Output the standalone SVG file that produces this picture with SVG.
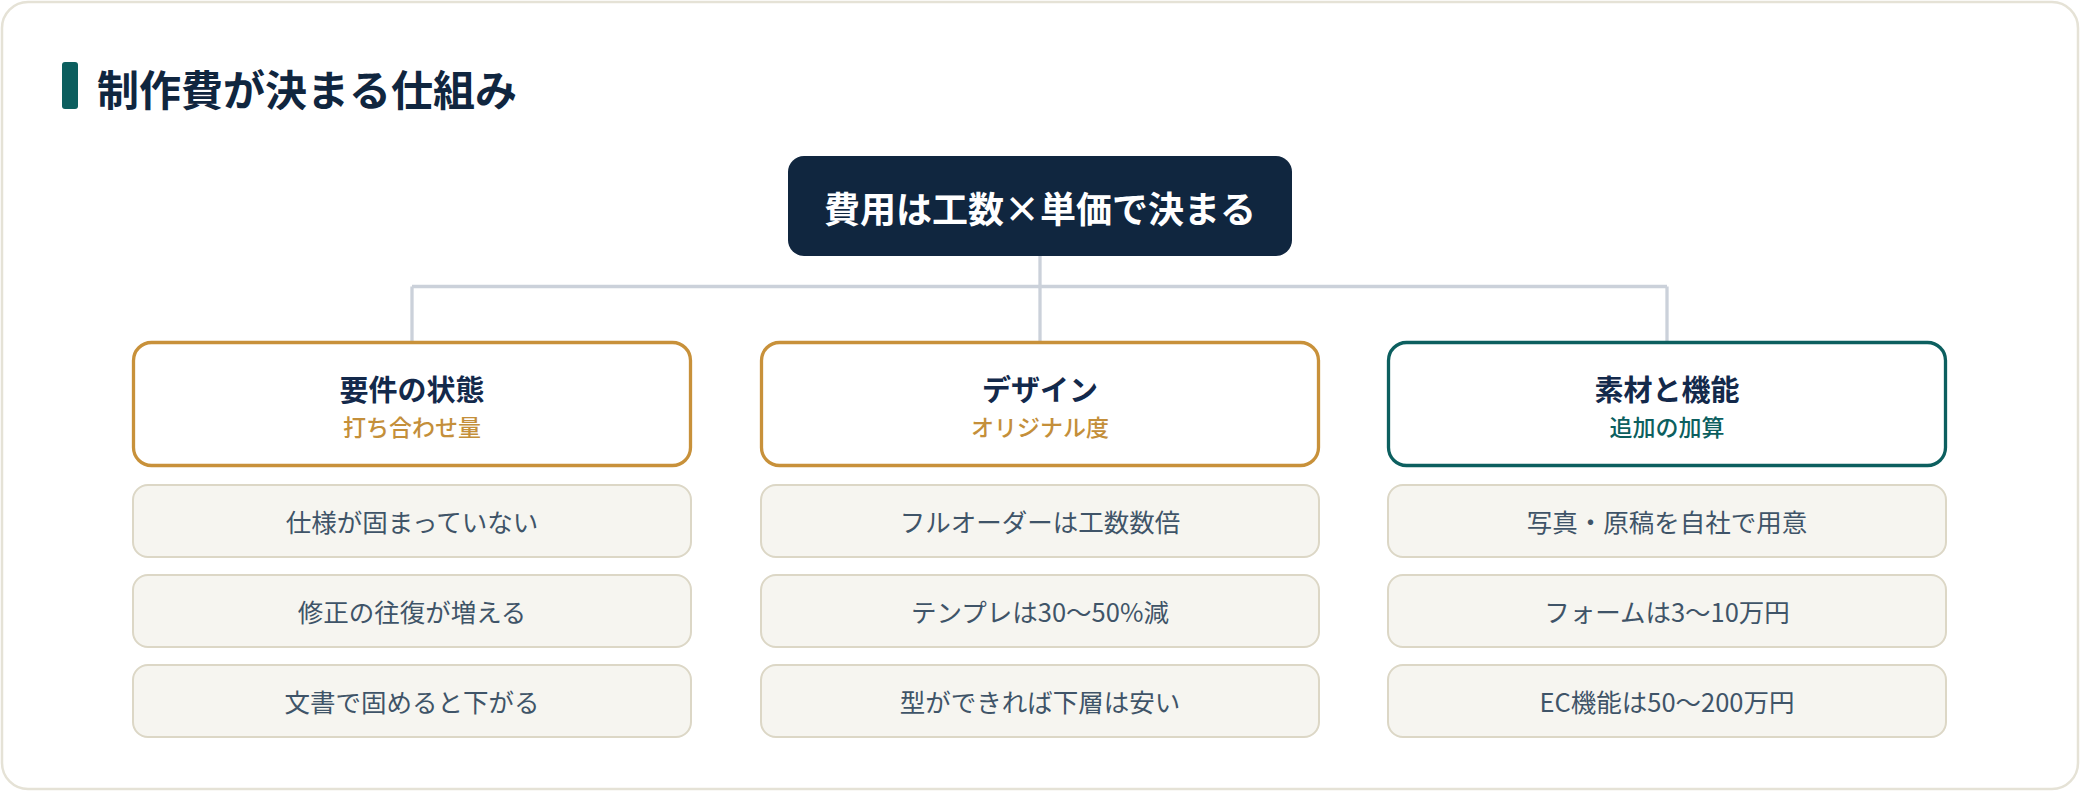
<svg xmlns="http://www.w3.org/2000/svg" width="2080" height="792" viewBox="0 0 2080 792">
<style>
.jp{font-family:"Noto Sans CJK JP","Noto Sans",sans-serif;}
.cat{fill:#ffffff;stroke-width:3.3;}
.gold{stroke:#c8913a;}
.teal{stroke:#0c5f5f;}
.ct{font-size:29px;font-weight:700;fill:#13294b;text-anchor:middle;}
.cs{font-size:23px;font-weight:500;text-anchor:middle;}
.item rect{fill:#f6f5f0;stroke:#dcd7c6;stroke-width:2;}
.item text{font-size:25.5px;fill:#3f5468;text-anchor:middle;}
.conn{stroke:#cbd1da;stroke-width:3.3;fill:none;}
</style>
<rect x="0" y="0" width="2080" height="792" fill="#ffffff"/>
<rect x="2" y="2" width="2076" height="787" rx="26" fill="#ffffff" stroke="#e5e2d6" stroke-width="2.5"/>
<g id="header">
<rect x="62" y="62" width="16" height="47" rx="3" fill="#0c5f5f"/>
<text class="jp" x="97" y="106" font-size="42" font-weight="700" fill="#10263f">制作費が決まる仕組み</text>
</g>
<g id="connectors">
<path class="conn" d="M1040 256 V342 M412 286.5 H1667 M412 286.5 V342 M1667 286.5 V342"/>
</g>
<g id="root">
<rect x="788" y="156" width="504" height="100" rx="16" fill="#10263f"/>
<text class="jp" x="1040" y="223" font-size="36" font-weight="700" fill="#ffffff" text-anchor="middle">費用は工数×単価で決まる</text>
</g>
<g id="cat1">
<rect class="cat gold" x="133.5" y="342.5" width="557" height="123" rx="18"/>
<text class="jp ct" x="412" y="401">要件の状態</text>
<text class="jp cs" x="412" y="436" fill="#c48f3a">打ち合わせ量</text>
</g>
<g id="cat2">
<rect class="cat gold" x="761.5" y="342.5" width="557" height="123" rx="18"/>
<text class="jp ct" x="1040" y="401">デザイン</text>
<text class="jp cs" x="1040" y="436" fill="#c48f3a">オリジナル度</text>
</g>
<g id="cat3">
<rect class="cat teal" x="1388.5" y="342.5" width="557" height="123" rx="18"/>
<text class="jp ct" x="1667" y="401">素材と機能</text>
<text class="jp cs" x="1667" y="436" fill="#0c5f5f">追加の加算</text>
</g>
<g id="item1a" class="item"><rect x="133" y="485" width="558" height="72" rx="15"/><text class="jp" x="412" y="532">仕様が固まっていない</text></g>
<g id="item1b" class="item"><rect x="133" y="575" width="558" height="72" rx="15"/><text class="jp" x="412" y="622">修正の往復が増える</text></g>
<g id="item1c" class="item"><rect x="133" y="665" width="558" height="72" rx="15"/><text class="jp" x="412" y="712">文書で固めると下がる</text></g>
<g id="item2a" class="item"><rect x="761" y="485" width="558" height="72" rx="15"/><text class="jp" x="1040" y="532">フルオーダーは工数数倍</text></g>
<g id="item2b" class="item"><rect x="761" y="575" width="558" height="72" rx="15"/><text class="jp" x="1040" y="622">テンプレは30〜50%減</text></g>
<g id="item2c" class="item"><rect x="761" y="665" width="558" height="72" rx="15"/><text class="jp" x="1040" y="712">型ができれば下層は安い</text></g>
<g id="item3a" class="item"><rect x="1388" y="485" width="558" height="72" rx="15"/><text class="jp" x="1667" y="532">写真・原稿を自社で用意</text></g>
<g id="item3b" class="item"><rect x="1388" y="575" width="558" height="72" rx="15"/><text class="jp" x="1667" y="622">フォームは3〜10万円</text></g>
<g id="item3c" class="item"><rect x="1388" y="665" width="558" height="72" rx="15"/><text class="jp" x="1667" y="712">EC機能は50〜200万円</text></g>
</svg>
